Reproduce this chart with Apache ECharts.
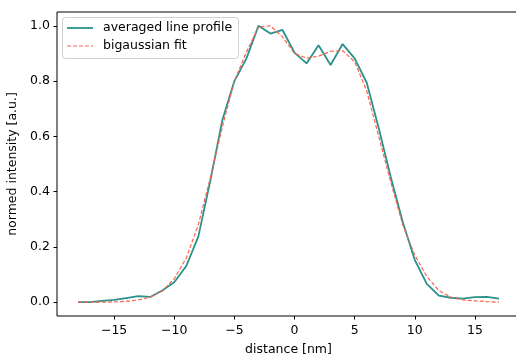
<!DOCTYPE html>
<html>
<head>
<meta charset="utf-8">
<script src="https://cdn.jsdelivr.net/npm/echarts@6/dist/echarts.min.js"></script>
<style>
  html, body { margin: 0; padding: 0; background: #fff; }
  #chart { width: 516px; height: 354px; }
</style>
</head>
<body>
<div id="chart"></div>
<script>
// Sample positions along the line profile [nm]
const distance = [-18, -17, -16, -15, -14, -13, -12, -11, -10, -9, -8, -7, -6, -5, -4, -3, -2, -1,
                  0, 1, 2, 3, 4, 5, 6, 7, 8, 9, 10, 11, 12, 13, 14, 15, 16, 17];

// Averaged, normalised intensity along the profile
const profile = [0.0, 0.0, 0.005, 0.008, 0.015, 0.022, 0.019, 0.042, 0.072, 0.131, 0.237, 0.44, 0.659, 0.80, 0.882, 1.0, 0.972, 0.985,
                 0.903, 0.864, 0.93, 0.858, 0.934, 0.882, 0.795, 0.63, 0.453, 0.29, 0.153, 0.066, 0.024, 0.016, 0.013, 0.018, 0.019, 0.013];

// Bigaussian model evaluated at the same positions
const fit = [0.0, 0.0, 0.0, 0.001, 0.003, 0.008, 0.018, 0.04, 0.085, 0.16, 0.28, 0.45, 0.635, 0.80, 0.905, 0.995, 1.0, 0.96,
             0.90, 0.883, 0.89, 0.908, 0.91, 0.87, 0.765, 0.60, 0.435, 0.28, 0.17, 0.093, 0.042, 0.018, 0.008, 0.005, 0.002, 0.0];

const xTicks = [-15, -10, -5, 0, 5, 10, 15];
const yTicks = [0.0, 0.2, 0.4, 0.6, 0.8, 1.0];

const seriesNames = ['averaged line profile', 'bigaussian fit'];
const PROFILE_COLOR = '#2a918b';
const FIT_COLOR = '#f8654d';

const FONT = 'DejaVu Sans';
const FS = 12.5;
const minus = v => String(v).replace('-', '\u2212');

const chart = echarts.init(document.getElementById('chart'), null, { renderer: 'canvas' });

// Legend box drawn as graphic elements so the samples are plain line segments
const legendGraphic = [
  { type: 'rect', left: 62, top: 17, z: 10,
    shape: { width: 176, height: 41, r: 3 },
    style: { fill: 'rgba(255,255,255,0.85)', stroke: '#d0d0d0', lineWidth: 1 } },
  { type: 'line', z: 11, shape: { x1: 67, y1: 28, x2: 93, y2: 28 },
    style: { stroke: PROFILE_COLOR, lineWidth: 1.8 } },
  { type: 'line', z: 11, shape: { x1: 67, y1: 46, x2: 93, y2: 46 },
    style: { stroke: FIT_COLOR, lineWidth: 1.2, lineDash: [4, 2] } },
  { type: 'text', z: 11, x: 103, y: 28,
    style: { text: seriesNames[0], font: FS + 'px "' + FONT + '"', fill: '#000', verticalAlign: 'middle' } },
  { type: 'text', z: 11, x: 103, y: 46,
    style: { text: seriesNames[1], font: FS + 'px "' + FONT + '"', fill: '#000', verticalAlign: 'middle' } }
];

chart.setOption({
  animation: false,
  backgroundColor: '#fff',
  textStyle: { fontFamily: FONT },
  grid: {
    left: 57, right: -4, top: 12, bottom: 38,
    outerBoundsMode: 'none',
    containLabel: false,
    show: true, borderColor: '#000', borderWidth: 1, backgroundColor: 'transparent'
  },
  graphic: legendGraphic,
  xAxis: {
    type: 'value',
    min: -19.75, max: 18.75,
    name: 'distance [nm]',
    nameLocation: 'middle', nameGap: 27,
    nameTextStyle: { fontFamily: FONT, fontSize: FS, color: '#000' },
    axisLine: { show: false, onZero: false },
    splitLine: { show: false },
    axisTick: { show: true, inside: false, length: 3.5, customValues: xTicks, lineStyle: { color: '#000', width: 1 } },
    axisLabel: { show: true, margin: 8, customValues: xTicks, fontFamily: FONT, fontSize: FS, color: '#000',
                 formatter: v => minus(v) }
  },
  yAxis: {
    type: 'value',
    min: -0.05, max: 1.05,
    name: 'normed intensity [a.u.]',
    nameLocation: 'middle', nameGap: 31, nameRotate: 90,
    nameTextStyle: { fontFamily: FONT, fontSize: FS, color: '#000' },
    axisLine: { show: false, onZero: false },
    splitLine: { show: false },
    axisTick: { show: true, inside: false, length: 3.5, customValues: yTicks, lineStyle: { color: '#000', width: 1 } },
    axisLabel: { show: true, margin: 7, customValues: yTicks, fontFamily: FONT, fontSize: FS, color: '#000',
                 formatter: v => v.toFixed(1) }
  },
  series: [
    {
      name: seriesNames[0],
      type: 'line',
      data: distance.map((x, i) => [x, profile[i]]),
      symbol: 'none',
      lineStyle: { color: PROFILE_COLOR, width: 1.8 },
      itemStyle: { color: PROFILE_COLOR },
      z: 2
    },
    {
      name: seriesNames[1],
      type: 'line',
      data: distance.map((x, i) => [x, fit[i]]),
      symbol: 'none',
      lineStyle: { color: FIT_COLOR, width: 1.2, type: [4, 2] },
      itemStyle: { color: FIT_COLOR },
      z: 3
    }
  ]
});
</script>
</body>
</html>
